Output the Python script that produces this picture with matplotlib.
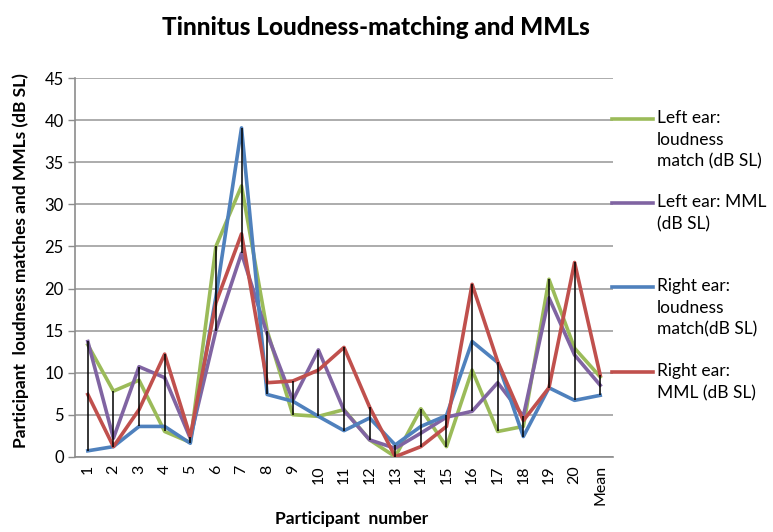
import numpy as np
import matplotlib
matplotlib.use("Agg")
import matplotlib.pyplot as plt
from matplotlib.lines import Line2D

plt.rcParams['font.family'] = ['Lato', 'DejaVu Sans']

# values
participants = [str(i) for i in range(1, 21)] + ['Mean']
left_loudness = [13.3, 7.8, 9.1, 3.0, 1.7, 25.0, 32.2, 15.0, 5.0, 4.8, 5.6, 2.0, 0.0, 5.7, 1.2,
                 10.3, 3.0, 3.6, 21.1, 12.9, 9.5]
left_mml = [13.7, 2.2, 10.7, 9.4, 2.2, 15.0, 24.2, 14.6, 6.7, 12.7, 5.5, 2.0, 1.0, 2.8, 4.7,
            5.4, 8.8, 4.8, 18.9, 12.1, 8.5]
right_loudness = [0.7, 1.2, 3.6, 3.6, 1.6, 19.0, 39.1, 7.4, 6.6, 4.8, 3.1, 4.6, 1.4, 3.6, 4.9,
                  13.7, 11.2, 2.4, 8.2, 6.7, 7.3]
right_mml = [7.4, 1.2, 5.6, 12.2, 2.4, 18.3, 26.5, 8.8, 9.0, 10.3, 13.0, 5.9, 0.0, 1.2, 3.6,
             20.5, 11.3, 4.3, 8.2, 23.1, 9.7]

series = [
    (left_loudness, '#9BBB59', 'Left ear:\nloudness\nmatch (dB SL)'),
    (left_mml, '#8064A2', 'Left ear: MML\n(dB SL)'),
    (right_loudness, '#4F81BD', 'Right ear:\nloudness\nmatch(dB SL)'),
    (right_mml, '#C0504D', 'Right ear:\nMML (dB SL)'),
]

fig = plt.figure(figsize=(7.73, 5.32), dpi=100)
ax = fig.add_axes([75 / 773, 1 - 456.7 / 532, 538 / 773, 378.4 / 532])

x = np.arange(len(participants))
for vals, col, lab in series:
    ax.plot(x, vals, color=col, lw=2.6, solid_joinstyle='round', zorder=3)

# high-low lines
allv = np.array([s[0] for s in series])
ax.vlines(x, allv.min(axis=0), allv.max(axis=0), color='black', lw=1.1, zorder=4)

ax.set_xlim(-0.5, len(participants) - 0.5)
ax.set_ylim(0, 45)
ax.set_yticks(range(0, 46, 5))
ax.set_xticks(x)
ax.set_xticklabels(participants, rotation=90, fontsize=11.5)
ax.tick_params(axis='y', labelsize=12, length=5, color='#8C8C8C', width=1, pad=3)
ax.tick_params(axis='x', length=0, pad=6)
ax.yaxis.grid(True, color='#A6A6A6', lw=1.3)
ax.set_axisbelow(True)
for s in ['top', 'right']:
    ax.spines[s].set_visible(False)
for s in ['left', 'bottom']:
    ax.spines[s].set_color('#8C8C8C')
    ax.spines[s].set_linewidth(1.2)

fig.text(376 / 773, 1 - 28 / 532, 'Tinnitus Loudness-matching and MMLs', ha='center', va='center',
         fontsize=17.5, fontweight='black')
fig.text(352 / 773, 1 - 519 / 532, 'Participant  number', ha='center', va='center',
         fontsize=12.5, fontweight='bold')
fig.text(21 / 773, 1 - 261 / 532, 'Participant  loudness matches and MMLs (dB SL)', ha='center',
         va='center', rotation=90, fontsize=12.5, fontweight='bold')

# legend, Excel style: line level with the first text line
leg_y = [119, 203, 287, 372]
for (vals, col, lab), yy in zip(series, leg_y):
    fy = 1 - yy / 532
    fig.add_artist(Line2D([612 / 773, 653 / 773], [fy, fy], color=col, lw=2.6))
    fig.text(657 / 773, fy + 9 / 532, lab, ha='left', va='top', fontsize=12.5, linespacing=1.45)

fig.savefig('out.png', dpi=100)
